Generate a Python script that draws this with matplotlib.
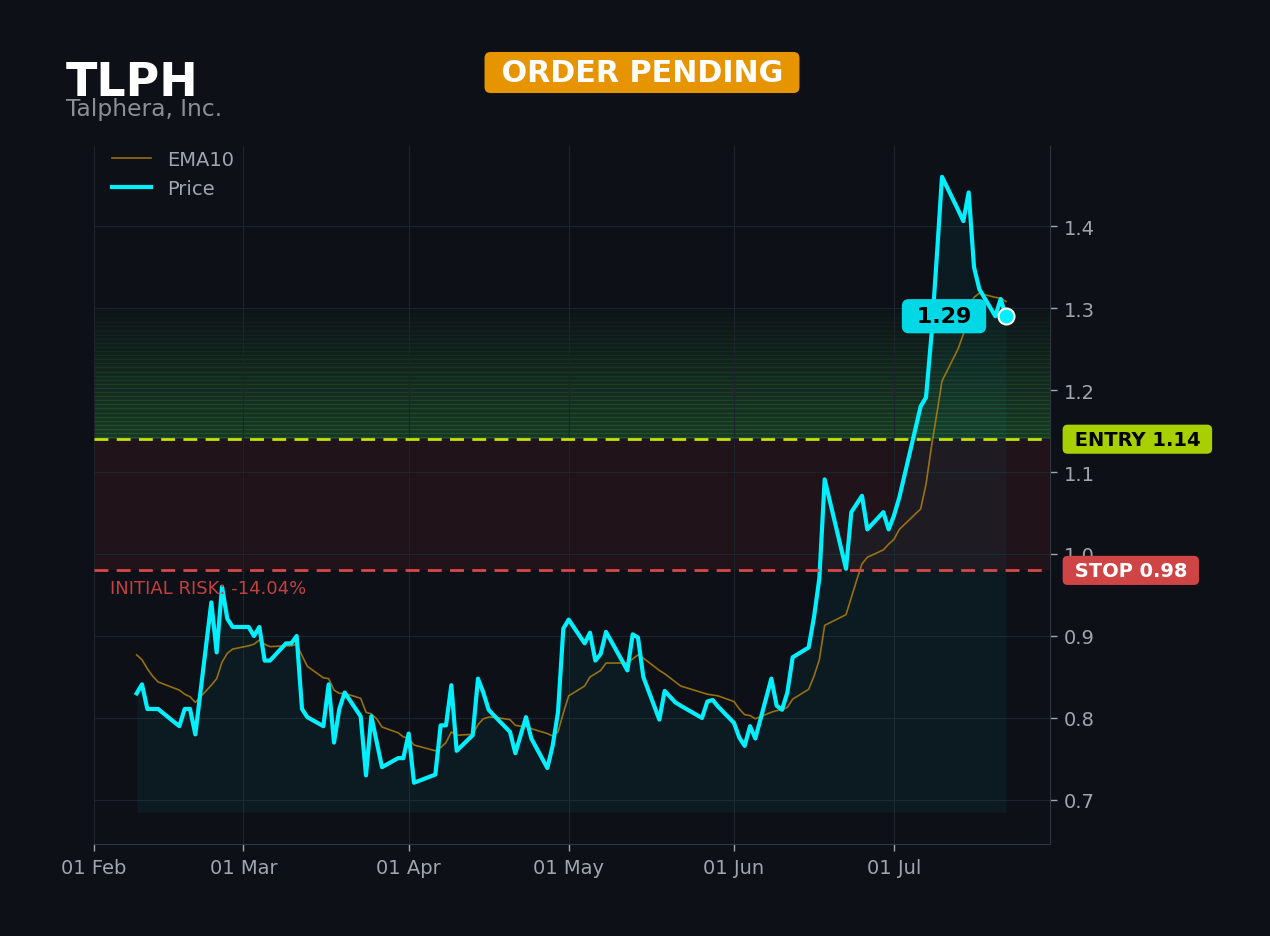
import matplotlib
matplotlib.use("Agg")
import matplotlib.pyplot as plt
import matplotlib.dates as mdates
import pandas as pd
import numpy as np

ticker = "TLPH"
company = "Talphera, Inc."
status = "ORDER PENDING"
entry = 1.14
stop = 0.98
target_top = 1.30

dates = [
    "2026-02-09", "2026-02-10", "2026-02-11", "2026-02-12", "2026-02-13",
    "2026-02-17", "2026-02-18", "2026-02-19", "2026-02-20",
    "2026-02-23", "2026-02-24", "2026-02-25", "2026-02-26", "2026-02-27",
    "2026-03-02", "2026-03-03", "2026-03-04", "2026-03-05", "2026-03-06",
    "2026-03-09", "2026-03-10", "2026-03-11", "2026-03-12", "2026-03-13",
    "2026-03-16", "2026-03-17", "2026-03-18", "2026-03-19", "2026-03-20",
    "2026-03-23", "2026-03-24", "2026-03-25", "2026-03-26", "2026-03-27",
    "2026-03-30", "2026-03-31", "2026-04-01", "2026-04-02",
    "2026-04-06", "2026-04-07", "2026-04-08", "2026-04-09", "2026-04-10",
    "2026-04-13", "2026-04-14", "2026-04-15", "2026-04-16", "2026-04-17",
    "2026-04-20", "2026-04-21", "2026-04-22", "2026-04-23", "2026-04-24",
    "2026-04-27", "2026-04-28", "2026-04-29", "2026-04-30", "2026-05-01",
    "2026-05-04", "2026-05-05", "2026-05-06", "2026-05-07", "2026-05-08",
    "2026-05-11", "2026-05-12", "2026-05-13", "2026-05-14", "2026-05-15",
    "2026-05-18", "2026-05-19", "2026-05-20", "2026-05-21", "2026-05-22",
    "2026-05-26", "2026-05-27", "2026-05-28", "2026-05-29",
    "2026-06-01", "2026-06-02", "2026-06-03", "2026-06-04", "2026-06-05",
    "2026-06-08", "2026-06-09", "2026-06-10", "2026-06-11", "2026-06-12",
    "2026-06-15", "2026-06-16", "2026-06-17", "2026-06-18",
    "2026-06-22", "2026-06-23", "2026-06-24", "2026-06-25", "2026-06-26",
    "2026-06-29", "2026-06-30", "2026-07-01", "2026-07-02",
    "2026-07-06", "2026-07-07", "2026-07-08", "2026-07-09", "2026-07-10",
    "2026-07-13", "2026-07-14", "2026-07-15", "2026-07-16", "2026-07-17",
    "2026-07-20", "2026-07-21", "2026-07-22",
]

price = [
    0.830, 0.841, 0.811, 0.811, 0.811,
    0.790, 0.811, 0.811, 0.780,
    0.941, 0.880, 0.960, 0.921, 0.911,
    0.911, 0.900, 0.911, 0.870, 0.870,
    0.891, 0.891, 0.900, 0.811, 0.801,
    0.790, 0.841, 0.770, 0.811, 0.831,
    0.802, 0.730, 0.802, 0.771, 0.740,
    0.751, 0.751, 0.781, 0.721,
    0.731, 0.791, 0.791, 0.840, 0.760,
    0.779, 0.848, 0.831, 0.810, 0.803,
    0.783, 0.757, 0.779, 0.801, 0.775,
    0.739, 0.766, 0.807, 0.909, 0.920,
    0.891, 0.904, 0.870, 0.878, 0.905,
    0.870, 0.858, 0.902, 0.898, 0.850,
    0.798, 0.833, 0.826, 0.819, 0.815,
    0.800, 0.820, 0.822, 0.814,
    0.794, 0.776, 0.766, 0.790, 0.775,
    0.848, 0.815, 0.810, 0.831, 0.874,
    0.886, 0.923, 0.970, 1.091,
    0.982, 1.051, 1.061, 1.071, 1.030,
    1.051, 1.030, 1.047, 1.069,
    1.180, 1.191, 1.265, 1.360, 1.460,
    1.420, 1.406, 1.441, 1.350, 1.323,
    1.290, 1.311, 1.290,
]

ema10 = [
    0.877, 0.871, 0.860, 0.851, 0.844,
    0.834, 0.829, 0.826, 0.819,
    0.840, 0.848, 0.868, 0.879, 0.884,
    0.888, 0.890, 0.895, 0.890, 0.887,
    0.888, 0.888, 0.890, 0.876, 0.863,
    0.849, 0.848, 0.834, 0.830, 0.830,
    0.824, 0.807, 0.805, 0.799, 0.789,
    0.782, 0.777, 0.775, 0.767,
    0.760, 0.764, 0.770, 0.783, 0.779,
    0.780, 0.792, 0.799, 0.801, 0.801,
    0.798, 0.791, 0.790, 0.790, 0.787,
    0.781, 0.778, 0.783, 0.806, 0.827,
    0.839, 0.850, 0.854, 0.858, 0.867,
    0.867, 0.867, 0.872, 0.877, 0.873,
    0.858, 0.854, 0.849, 0.844, 0.839,
    0.831, 0.829, 0.828, 0.827,
    0.820, 0.811, 0.804, 0.803, 0.799,
    0.807, 0.809, 0.810, 0.813, 0.823,
    0.835, 0.851, 0.871, 0.913,
    0.926, 0.947, 0.968, 0.988, 0.996,
    1.005, 1.012, 1.018, 1.030,
    1.055, 1.085, 1.130, 1.170, 1.211,
    1.250, 1.268, 1.300, 1.313, 1.318,
    1.313, 1.312, 1.308,
]

x = pd.to_datetime(dates)

BG = "#0d1117"
GRID = "#1e242c"
TICK = "#a0a6ad"
CYAN = "#00f0ff"
GOLD = "#b8860b"
ENTRY_LINE = "#c8e000"
ENTRY_BOX = "#a8d000"
STOP_LINE = "#d94848"
STOP_BOX = "#cf4444"
GREEN = "#3fb950"

fig = plt.figure(figsize=(12.7, 9.37), dpi=100, facecolor=BG)
W, H = 1270, 937
ax = fig.add_axes([94 / W, 1 - 845 / H, (1050 - 94) / W, (845 - 147) / H])
ax.set_facecolor(BG)

ax.set_xlim(pd.Timestamp("2026-02-01"), pd.Timestamp("2026-07-30 06:00"))
ax.set_ylim(0.6463, 1.4976)

# zones
ax.axhspan(stop, entry, color="#e63232", alpha=0.09, lw=0, zorder=0)
n_bands = 32
h = (target_top - entry) / n_bands
for i in range(n_bands):
    lo = entry + i * h
    a = 0.21 * (1 - i / n_bands) + 0.015
    ax.axhspan(lo, lo + h, color=GREEN, alpha=a, lw=0, zorder=0)
    ax.axhline(lo + h * 0.5, color=GREEN, alpha=a, lw=1.0, zorder=0)

# grid
ax.grid(True, color=GRID, lw=0.8, zorder=0.5)
ax.set_axisbelow(True)

# fill under price
base = min(price) * 0.95
ax.fill_between(x, price, base, color="#00e5ff", alpha=0.045, lw=0, zorder=1)

ax.plot(x, ema10, color=GOLD, lw=1.2, alpha=0.8, label="EMA10", zorder=2)
ax.plot(x, price, color=CYAN, lw=3, label="Price", zorder=3)

ax.axhline(entry, color=ENTRY_LINE, lw=2, ls=(0, (5, 3)), zorder=4)
ax.axhline(stop, color=STOP_LINE, lw=2, ls=(0, (5, 3)), zorder=4)

ax.plot([x[-1]], [price[-1]], "o", ms=11.5, mfc=CYAN, mec="white", mew=1.5, zorder=6)
ax.annotate(f" {price[-1]:.2f} ", xy=(x[-1], price[-1]), xytext=(-62, 0),
            textcoords="offset pixels", ha="center", va="center",
            fontsize=16, fontweight="bold", color="black",
            bbox=dict(boxstyle="round,pad=0.32", fc="#00d8e6", ec="none"), zorder=7)

risk = (stop - entry) / entry * 100
ax.text(0.0167, stop - 0.0215, f"INITIAL RISK: {risk:.2f}%", transform=ax.get_yaxis_transform(),
        color="#c4403f", fontsize=13, ha="left", va="center", zorder=5)

ax.text(1.0185, entry, f" ENTRY {entry:.2f} ", transform=ax.get_yaxis_transform(),
        ha="left", va="center", fontsize=14, fontweight="bold", color="black",
        bbox=dict(boxstyle="round,pad=0.26", fc=ENTRY_BOX, ec="none"), clip_on=False, zorder=8)
ax.text(1.0185, stop, f" STOP {stop:.2f} ", transform=ax.get_yaxis_transform(),
        ha="left", va="center", fontsize=14, fontweight="bold", color="white",
        bbox=dict(boxstyle="round,pad=0.26", fc=STOP_BOX, ec="none"), clip_on=False, zorder=8)

# axes styling
ax.yaxis.tick_right()
ax.set_yticks([0.7, 0.8, 0.9, 1.0, 1.1, 1.2, 1.3, 1.4])
ax.yaxis.set_major_formatter(matplotlib.ticker.FormatStrFormatter("%.1f"))
ax.xaxis.set_major_locator(mdates.MonthLocator())
ax.xaxis.set_major_formatter(mdates.DateFormatter("%d %b"))
ax.tick_params(axis="both", colors=TICK, labelsize=14, length=5, width=1, pad=5)
for s in ["top", "left"]:
    ax.spines[s].set_visible(False)
for s in ["right", "bottom"]:
    ax.spines[s].set_color("#30363d")

leg = ax.legend(loc="upper left", bbox_to_anchor=(0.011, 1.005), frameon=False,
                fontsize=14, labelcolor=TICK, borderaxespad=0)

fig.text(66 / W, 1 - 96 / H, ticker, color="white", fontsize=33, fontweight="bold",
         ha="left", va="baseline")
fig.text(66 / W, 1 - 116 / H, company, color="#8b8f94", fontsize=16.8, ha="left", va="baseline")
fig.text(642 / W, 1 - 73.5 / H, f" {status} ", color="white", fontsize=21.7, fontweight="bold",
         ha="center", va="center",
         bbox=dict(boxstyle="round,pad=0.2", fc="#e69500", ec="none"))

fig.savefig("out.png", dpi=100, facecolor=BG)
